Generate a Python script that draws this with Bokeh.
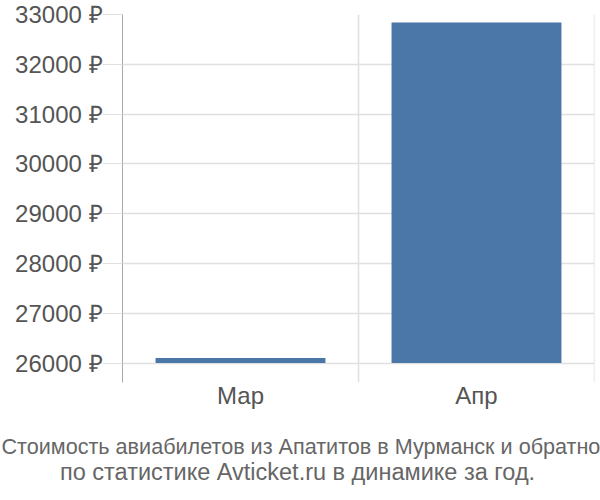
from bokeh.plotting import figure
from bokeh.models import FactorRange, Range1d, FixedTicker, Span, ColumnDataSource, Title
from bokeh.embed import file_html
from bokeh.resources import INLINE

months = ["Мар", "Апр"]
prices = [26100, 32840]
y_ticks = [26000, 27000, 28000, 29000, 30000, 31000, 32000, 33000]
title_lines = ["Стоимость авиабилетов из Апатитов в Мурманск и обратно",
               "по статистике Avticket.ru в динамике за год."]

FONT = "Liberation Sans"
LABEL_COLOR = "#555555"
GRID_COLOR = "#e0e0e0"
BAR_COLOR = "#4a77a7"

p = figure(width=600, height=500, x_range=FactorRange(factors=months),
           y_range=Range1d(25610, 33000), output_backend="svg",
           toolbar_location=None, min_border_left=122, min_border_right=6,
           min_border_top=14, min_border_bottom=118)
p.outline_line_color = None
p.background_fill_color = "white"

src = ColumnDataSource(dict(x=months, top=prices))
p.vbar(x="x", top="top", bottom=26000, width=0.72, source=src,
       fill_color=BAR_COLOR, line_color=None)

# y axis
p.yaxis.ticker = FixedTicker(ticks=y_ticks)
p.yaxis.major_label_overrides = {t: f"{t} ₽" for t in y_ticks}
p.yaxis.axis_line_color = "#aaaaaa"
p.yaxis.major_tick_line_color = GRID_COLOR
p.yaxis.major_tick_in = 0
p.yaxis.major_tick_out = 20
p.yaxis.minor_tick_line_color = None
p.yaxis.major_label_standoff = 0
p.yaxis.major_label_text_font = FONT
p.yaxis.major_label_text_font_size = "24px"
p.yaxis.major_label_text_color = LABEL_COLOR

p.ygrid.ticker = FixedTicker(ticks=y_ticks)
p.ygrid.grid_line_color = GRID_COLOR
p.ygrid.grid_line_width = 1.5

# x axis
p.xaxis.axis_line_color = None
p.xaxis.major_tick_line_color = None
p.xaxis.minor_tick_line_color = None
p.xaxis.major_label_standoff = -7
p.xaxis.major_label_text_font = FONT
p.xaxis.major_label_text_font_size = "24px"
p.xaxis.major_label_text_color = LABEL_COLOR
p.xgrid.visible = False

for loc in range(1, len(months) + 1):
    p.add_layout(Span(location=loc, dimension="height", line_color=GRID_COLOR,
                      line_width=1.5))

# blank spacer between the x labels and the caption
p.add_layout(Title(text=" ", text_font_size="1px", standoff=19,
                   text_color="white"), "below")

# two-line caption under the chart (left-anchored titles, shifted to centre)
sizes = ["21.6px", "23.5px"]
offsets = [-121, -62.5]
for line, size, off in zip(title_lines, sizes, offsets):
    p.add_layout(Title(text=line, align="left", offset=off, standoff=-2,
                       vertical_align="middle",
                       text_font=FONT, text_font_size=size,
                       text_font_style="normal", text_color="#666666"), "below")

open("out.html", "w").write(file_html(p, INLINE))
